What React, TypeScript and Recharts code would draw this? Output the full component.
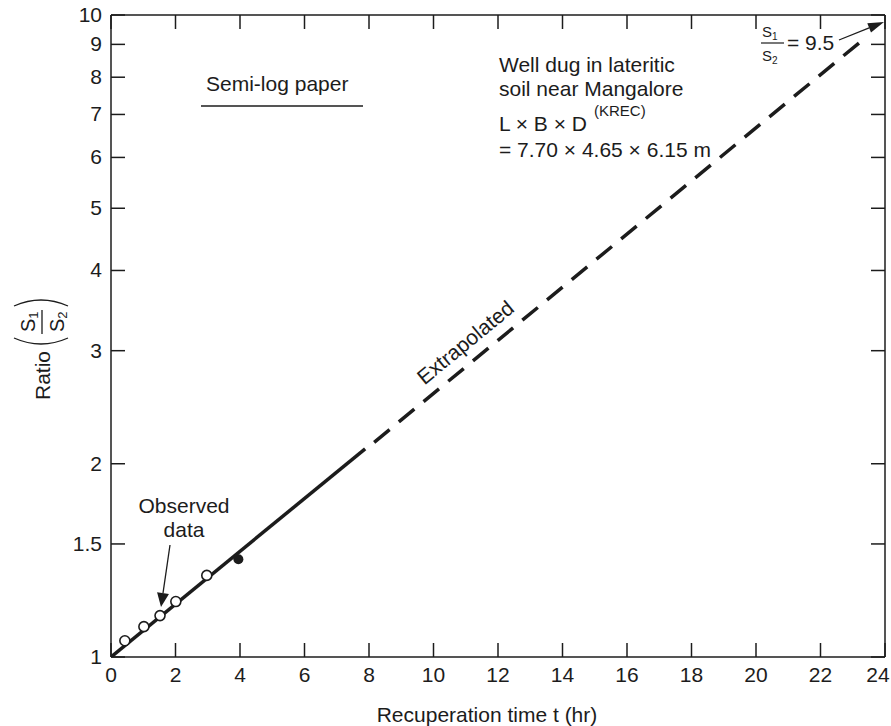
import React from "react";
import { ComposedChart, Customized, Line, Scatter, XAxis, YAxis } from "recharts";

const xTicks = [0, 2, 4, 6, 8, 10, 12, 14, 16, 18, 20, 22, 24];
const yTicks = [1, 1.5, 2, 3, 4, 5, 6, 7, 8, 9, 10];

const observedTime = [0.43, 1.02, 1.52, 2.01, 2.97];
const observedRatio = [1.06, 1.115, 1.16, 1.22, 1.34];
const extraTime = [3.95];
const extraRatio = [1.42];

const fitTime = [0, 7.88];
const fitRatio = [1, 2.11];
const extrapTime = [8.16, 23.2];
const extrapRatio = [2.16, 9.05];

const zip = (ts: number[], rs: number[]) => ts.map((t, i) => ({ t, r: rs[i] }));

const observed = zip(observedTime, observedRatio);
const extra = zip(extraTime, extraRatio);
const fitted = zip(fitTime, fitRatio);
const extrapolated = zip(extrapTime, extrapRatio);

const FONT = "'Liberation Sans', Arial, Helvetica, sans-serif";
const INK = "#1c1c1c";
const TICK = 14; // inward tick length

const frameLine = { stroke: INK, strokeWidth: 1.5 };

// labels only; the inward tick marks come from tickLine + negative tickSize
const BottomLabel = ({ x, y, payload }: any) => (
  <text
    x={payload.value === 24 ? x - 7 : x}
    y={y + TICK + 25}
    textAnchor="middle"
    fontSize={21}
    fontFamily={FONT}
    fill={INK}
  >
    {payload.value}
  </text>
);

const LeftLabel = ({ x, y, payload }: any) => (
  <text x={x - TICK - 9} y={y + 7} textAnchor="end" fontSize={21} fontFamily={FONT} fill={INK}>
    {payload.value}
  </text>
);

const NoLabel = () => <g />;

const OpenDot = ({ cx, cy }: any) => (
  <circle cx={cx} cy={cy} r={5} fill="#fff" stroke={INK} strokeWidth={1.6} />
);
const FilledDot = ({ cx, cy }: any) => <circle cx={cx} cy={cy} r={5} fill={INK} />;

// shaft plus filled head at (x2, y2)
const Arrow = ({ x1, y1, x2, y2, len, half }: any) => {
  const d = Math.hypot(x2 - x1, y2 - y1);
  const ux = (x2 - x1) / d;
  const uy = (y2 - y1) / d;
  const bx = x2 - ux * len;
  const by = y2 - uy * len;
  const pts = `${x2},${y2} ${bx - uy * half},${by + ux * half} ${bx + uy * half},${by - ux * half}`;
  return (
    <g>
      <line x1={x1} y1={y1} x2={bx} y2={by} stroke={INK} strokeWidth={1.3} />
      <polygon points={pts} fill={INK} />
    </g>
  );
};

const Annotations = () => (
  <g fontFamily={FONT} fill={INK}>
    <text x={206} y={91} fontSize={21}>Semi-log paper</text>
    <line x1={201} y1={106} x2={363} y2={106} stroke={INK} strokeWidth={1.5} />

    <text x={499} y={72} fontSize={21}>Well dug in lateritic</text>
    <text x={499} y={96} fontSize={21}>soil near Mangalore</text>
    <text x={499} y={131} fontSize={21}>L × B × D</text>
    <text x={594} y={116} fontSize={15}>(KREC)</text>
    <text x={499} y={157} fontSize={21}>= 7.70 × 4.65 × 6.15 m</text>

    <text x={762} y={37} fontSize={15}>
      S<tspan fontSize={10} dy={3}>1</tspan>
    </text>
    <line x1={761} y1={43} x2={784} y2={43} stroke={INK} strokeWidth={1.2} />
    <text x={762} y={61} fontSize={15}>
      S<tspan fontSize={10} dy={3}>2</tspan>
    </text>
    <text x={787} y={50} fontSize={21}>= 9.5</text>
    <Arrow x1={839} y1={40} x2={884} y2={22} len={16} half={5} />

    <text x={184} y={513} fontSize={21} textAnchor="middle">Observed</text>
    <text x={184} y={537} fontSize={21} textAnchor="middle">data</text>
    <Arrow x1={170} y1={545} x2={161} y2={607} len={14} half={6} />

    <text x={470} y={348} fontSize={21} textAnchor="middle" transform="rotate(-39.4 470 348)">
      Extrapolated
    </text>

    <g transform="translate(50 350) rotate(-90)">
      <text x={-50} y={0} fontSize={21}>Ratio</text>
      <path d="M 12 -36 Q 0 -9 12 18" fill="none" stroke={INK} strokeWidth={1.3} />
      <path d="M 44 -36 Q 56 -9 44 18" fill="none" stroke={INK} strokeWidth={1.3} />
      <text x={18} y={-15} fontSize={20}>
        S<tspan fontSize={13} dy={3}>1</tspan>
      </text>
      <line x1={16} y1={-8} x2={40} y2={-8} stroke={INK} strokeWidth={1.3} />
      <text x={18} y={14} fontSize={20}>
        S<tspan fontSize={13} dy={3}>2</tspan>
      </text>
    </g>

    <text x={487} y={722} fontSize={21} textAnchor="middle">Recuperation time t (hr)</text>
  </g>
);

export default function App() {
  return (
    <div style={{ position: "absolute", left: 0, top: 0, background: "#fff" }}>
      <ComposedChart width={891} height={726} margin={{ top: 14, right: 5, bottom: 0, left: 0 }}>
        <XAxis
          xAxisId="b"
          dataKey="t"
          type="number"
          domain={[0, 24]}
          ticks={xTicks}
          interval={0}
          allowDataOverflow
          height={69}
          tickLine={frameLine}
          tickSize={-TICK}
          tickMargin={0}
          tick={<BottomLabel />}
          axisLine={frameLine}
        />
        <XAxis
          xAxisId="top"
          orientation="top"
          dataKey="t"
          type="number"
          domain={[0, 24]}
          ticks={xTicks}
          interval={0}
          allowDataOverflow
          height={1}
          tickLine={frameLine}
          tickSize={-TICK}
          tickMargin={0}
          tick={<NoLabel />}
          axisLine={frameLine}
        />
        <YAxis
          yAxisId="l"
          dataKey="r"
          type="number"
          scale="log"
          domain={[1, 10]}
          ticks={yTicks}
          interval={0}
          allowDataOverflow
          width={111}
          tickLine={frameLine}
          tickSize={-TICK}
          tickMargin={0}
          tick={<LeftLabel />}
          axisLine={frameLine}
        />
        <YAxis
          yAxisId="right"
          orientation="right"
          dataKey="r"
          type="number"
          scale="log"
          domain={[1, 10]}
          ticks={yTicks}
          interval={0}
          allowDataOverflow
          width={1}
          tickLine={frameLine}
          tickSize={-TICK}
          tickMargin={0}
          tick={<NoLabel />}
          axisLine={frameLine}
        />
        <Line
          xAxisId="b"
          yAxisId="l"
          data={fitted}
          dataKey="r"
          stroke={INK}
          strokeWidth={3.5}
          dot={false}
          isAnimationActive={false}
        />
        <Line
          xAxisId="b"
          yAxisId="l"
          data={extrapolated}
          dataKey="r"
          stroke={INK}
          strokeWidth={3.5}
          strokeDasharray="20 12"
          dot={false}
          isAnimationActive={false}
        />
        <Scatter
          xAxisId="b"
          yAxisId="l"
          data={observed}
          dataKey="r"
          shape={<OpenDot />}
          isAnimationActive={false}
        />
        <Scatter
          xAxisId="b"
          yAxisId="l"
          data={extra}
          dataKey="r"
          shape={<FilledDot />}
          isAnimationActive={false}
        />
        <Customized component={Annotations} />
      </ComposedChart>
    </div>
  );
}
